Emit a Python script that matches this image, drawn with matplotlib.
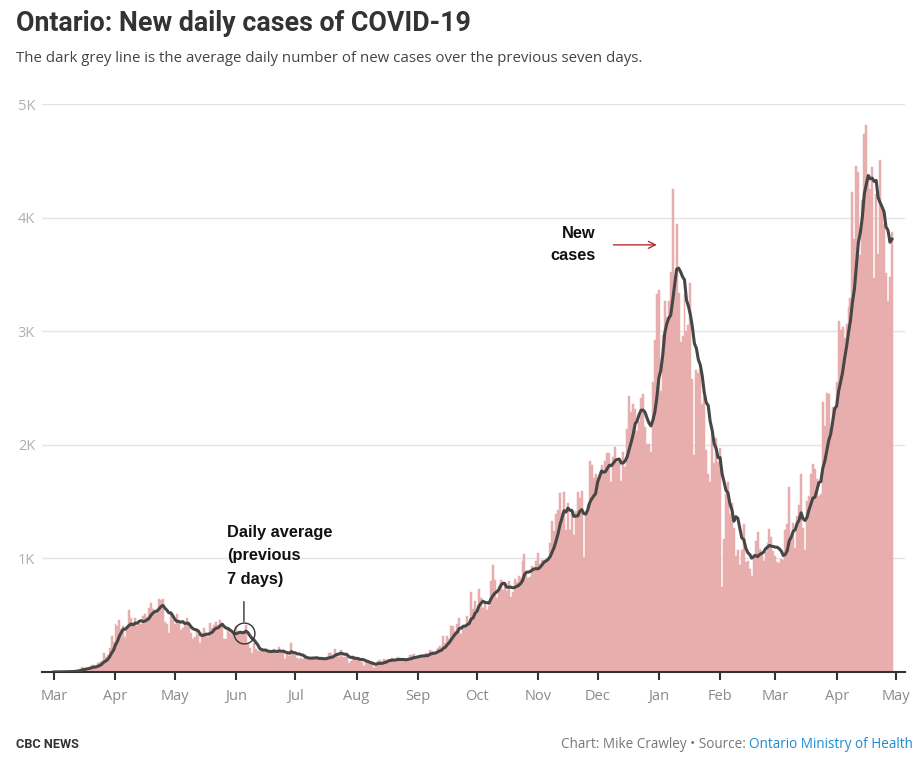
import numpy as np
import pandas as pd
import matplotlib
matplotlib.use("Agg")
import matplotlib.pyplot as plt
import matplotlib.dates as mdates
from matplotlib.ticker import FixedLocator, FuncFormatter

# daily new cases, Ontario (one list per month)
mar20 = [1, 0, 1, 2, 3, 5, 2, 4, 6, 5, 5, 17, 20, 24, 42, 32, 39, 25, 44, 60, 59, 48, 78, 85, 100, 170, 135, 151, 211, 313, 260]
apr20 = [426, 401, 462, 375, 408, 309, 379, 550, 478, 411, 478, 401, 424, 421, 494, 514, 485, 565, 606, 551, 510, 525, 640, 634, 640, 437, 424, 347, 525, 459]
may20 = [421, 511, 434, 370, 387, 412, 477, 399, 346, 294, 308, 361, 329, 258, 345, 391, 340, 304, 427, 390, 413, 441, 412, 460, 404, 287, 292, 383, 344, 323, 326]
jun20 = [404, 335, 338, 356, 344, 415, 243, 215, 167, 251, 203, 182, 182, 184, 173, 181, 190, 173, 178, 206, 177, 161, 216, 163, 189, 111, 178, 138, 257, 157]
jul20 = [153, 121, 111, 121, 118, 154, 112, 118, 118, 116, 130, 129, 116, 111, 102, 111, 135, 164, 165, 135, 203, 165, 135, 195, 129, 129, 137, 76, 95, 145, 134]
aug20 = [127, 104, 86, 86, 55, 88, 95, 70, 73, 33, 70, 95, 102, 88, 115, 104, 102, 102, 125, 89, 115, 131, 108, 105, 98, 106, 118, 148, 150, 162, 114]
sep20 = [133, 132, 149, 148, 169, 158, 190, 185, 149, 170, 213, 232, 204, 313, 251, 315, 293, 401, 407, 365, 425, 478, 335, 409, 409, 491, 435, 700, 554, 625]
oct20 = [538, 732, 653, 566, 615, 548, 583, 797, 939, 809, 649, 746, 807, 721, 783, 712, 805, 658, 704, 821, 790, 841, 826, 978, 1042, 851, 827, 834, 934, 896, 977]
nov20 = [1050, 948, 987, 987, 998, 1003, 1132, 1328, 1242, 1388, 1426, 1575, 1396, 1581, 1248, 1487, 1249, 1417, 1210, 1418, 1588, 1534, 1589, 1009, 1373, 1478, 1855, 1822, 1708, 1746]
dec20 = [1707, 1723, 1824, 1780, 1859, 1924, 1925, 1676, 1890, 1983, 1848, 1873, 1677, 1940, 1808, 2139, 2432, 2290, 2357, 2316, 2123, 2202, 2408, 2447, 2159, 2005, 2005, 1939, 2553, 2923, 3328]
jan21 = [3363, 2476, 2964, 3270, 3128, 3266, 3519, 4249, 3443, 3945, 3338, 2903, 2961, 3326, 2998, 3056, 3422, 2578, 1913, 2655, 2632, 2662, 2359, 2417, 1958, 1740, 1670, 2093, 1837, 2063, 1848]
feb21 = [1969, 745, 1172, 1563, 1670, 1388, 1489, 1265, 1022, 1072, 945, 1076, 1300, 964, 981, 904, 847, 1038, 1150, 1228, 1087, 1058, 975, 1054, 1138, 1258, 1185, 1062]
mar21 = [1023, 966, 958, 994, 990, 1250, 1299, 1631, 1185, 1316, 1092, 1371, 1468, 1747, 1268, 1074, 1508, 1553, 1745, 1829, 1791, 1699, 1546, 1571, 2380, 2169, 2453, 2448, 2094, 2336, 2333]
apr21 = [2557, 3089, 3009, 3041, 2938, 3065, 3215, 3295, 4227, 3813, 4456, 4401, 3670, 4156, 4736, 4812, 4362, 4250, 4447, 3469, 4212, 3682, 4505, 4094, 3947, 3510, 3265, 3480, 3871]

month_starts = ["2020-03-01", "2020-04-01", "2020-05-01", "2020-06-01", "2020-07-01",
                "2020-08-01", "2020-09-01", "2020-10-01", "2020-11-01", "2020-12-01",
                "2021-01-01", "2021-02-01", "2021-03-01", "2021-04-01"]
monthly = [mar20, apr20, may20, jun20, jul20, aug20, sep20, oct20, nov20, dec20,
           jan21, feb21, mar21, apr21]

y_ticks = [1000, 2000, 3000, 4000, 5000]
y_labels = ["1K", "2K", "3K", "4K", "5K"]

dates = pd.DatetimeIndex(np.concatenate(
    [pd.date_range(s, periods=len(v), freq="D").values for s, v in zip(month_starts, monthly)]))
cases = pd.Series(np.concatenate(monthly).astype(float), index=dates)
avg = cases.rolling(7, min_periods=1).mean()

W, H = 919, 766
fig = plt.figure(figsize=(W / 100, H / 100), dpi=100)
fig.patch.set_facecolor("white")
ax = fig.add_axes([42 / W, (H - 672) / H, (905 - 42) / W, (672 - 104) / H])

bar_color = "#e8aeae"
ax.bar(cases.index, cases.values, width=1.0, color=bar_color, edgecolor=bar_color,
       linewidth=0.35, zorder=2)
ax.plot(avg.index, avg.values, color="#464646", lw=2.2, zorder=3, solid_joinstyle="round")

# axes styling
start = pd.Timestamp(month_starts[0])
ax.set_xlim(start - pd.Timedelta(days=6.2), start + pd.Timedelta(days=430.6))
ax.set_ylim(0, 5000)
ax.yaxis.set_major_locator(FixedLocator(y_ticks))
ax.yaxis.set_major_formatter(FuncFormatter(lambda v, p: y_labels[y_ticks.index(int(v))] if int(v) in y_ticks else ""))
ax.yaxis.grid(True, color="#e4e4e4", lw=1)
ax.set_axisbelow(True)
ax.xaxis.set_major_locator(mdates.MonthLocator())
ax.xaxis.set_major_formatter(mdates.DateFormatter("%b"))
for s in ["left", "right", "top"]:
    ax.spines[s].set_visible(False)
ax.spines["bottom"].set_color("#333333")
ax.spines["bottom"].set_linewidth(1.5)
ax.tick_params(axis="x", length=6, width=1.5, color="#333333", labelcolor="#8a8a8a",
               labelsize=10.5, pad=6)
ax.tick_params(axis="y", length=0, labelcolor="#b0b0b0", labelsize=10.5, pad=5)
for lab in ax.get_xticklabels() + ax.get_yticklabels():
    lab.set_fontfamily("Open Sans")

# daily average annotation
d_circ = pd.Timestamp("2020-06-05")
v_circ = avg[d_circ]
ax.plot([d_circ], [v_circ], marker="o", ms=15, mfc="none", mec="#333333", mew=1.0, zorder=4)
ax.annotate("", xy=(d_circ, v_circ), xytext=(0, 31), textcoords="offset pixels",
            arrowprops=dict(arrowstyle="-", color="#333333", lw=1, shrinkA=0, shrinkB=8))
ax.annotate("Daily average\n(previous\n7 days)", xy=(d_circ, v_circ), xytext=(-17, 46),
            textcoords="offset pixels", ha="left", va="bottom", fontsize=11.8,
            fontweight="bold", family="Liberation Sans", color="#111111", linespacing=1.68)

# new cases annotation
d_txt = pd.Timestamp("2020-11-30")
d_tip = pd.Timestamp("2020-12-31")
ax.text(d_txt, 3760, "New\ncases", ha="right", va="center", fontsize=11.8, fontweight="bold",
        family="Liberation Sans", color="#111111", linespacing=1.6, multialignment="right")
ax.annotate("", xy=(d_tip, 3760), xytext=(pd.Timestamp("2020-12-09"), 3760),
            arrowprops=dict(arrowstyle="->,head_length=0.5,head_width=0.25", color="#b03030",
                            lw=1, shrinkA=0, shrinkB=0))

# titles
fig.text(16 / W, 1 - 31 / H, "Ontario: New daily cases of COVID-19", fontsize=19.3,
         fontweight="bold", family="Roboto", color="#333333", va="baseline")
fig.text(16 / W, 1 - 58 / H,
         "The dark grey line is the average daily number of new cases over the previous seven days.",
         fontsize=10.85, family="Open Sans", color="#444444", va="center")

# footer
fig.text(16 / W, 1 - 745 / H, "CBC NEWS", fontsize=9.2, fontweight="bold", family="Roboto",
         color="#333333", va="center")
src = fig.text(913 / W, 1 - 745 / H, "Ontario Ministry of Health", fontsize=9.75,
               family="Open Sans", color="#1e8bd0", va="center", ha="right")
fig.canvas.draw()
bb = src.get_window_extent()
fig.text(bb.x0 / W, 1 - 745 / H, "Chart: Mike Crawley \u2022 Source: ", fontsize=9.75,
         family="Open Sans", color="#777777", va="center", ha="right")

fig.savefig("out.png", dpi=100, facecolor="white")
